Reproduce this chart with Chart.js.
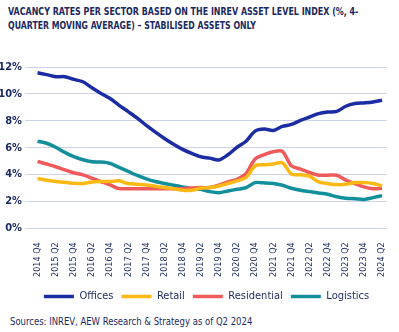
<!DOCTYPE html>
<html>
<head>
<meta charset="utf-8">
<script src="https://cdn.jsdelivr.net/npm/chart.js@4"></script>
<style>
  body { margin: 0; background: #fff; width: 399px; height: 332px; overflow: hidden; position: relative; }
  .txt { position: absolute; color: #1b2a5e; font-family: "DejaVu Sans Condensed", sans-serif; white-space: nowrap; transform-origin: 0 0; }
  .title { left: 8px; font-size: 11px; font-weight: bold; }
  #t1 { top: 5px; }
  #t2 { top: 19px; }
  #source { left: 10px; top: 315px; font-size: 11px; }
  #wrap { position: absolute; left: 0; top: 56px; width: 399px; height: 256px; }
</style>
</head>
<body>
<div id="t1" class="txt title">VACANCY RATES PER SECTOR BASED ON THE INREV ASSET LEVEL INDEX (%, 4-</div>
<div id="t2" class="txt title">QUARTER MOVING AVERAGE) – STABILISED ASSETS ONLY</div>
<div id="wrap"><canvas id="chart"></canvas></div>
<div id="source" class="txt">Sources: INREV, AEW Research &amp; Strategy as of Q2 2024</div>
<script>
const quarters = [
  "2014 Q4", "2015 Q1", "2015 Q2", "2015 Q3", "2015 Q4", "2016 Q1", "2016 Q2", "2016 Q3",
  "2016 Q4", "2017 Q1", "2017 Q2", "2017 Q3", "2017 Q4", "2018 Q1", "2018 Q2", "2018 Q3",
  "2018 Q4", "2019 Q1", "2019 Q2", "2019 Q3", "2019 Q4", "2020 Q1", "2020 Q2", "2020 Q3",
  "2020 Q4", "2021 Q1", "2021 Q2", "2021 Q3", "2021 Q4", "2022 Q1", "2022 Q2", "2022 Q3",
  "2022 Q4", "2023 Q1", "2023 Q2", "2023 Q3", "2023 Q4", "2024 Q1", "2024 Q2"
];
const offices = [11.57, 11.43, 11.28, 11.28, 11.08, 10.9, 10.45, 10.03, 9.65, 9.15, 8.68, 8.2, 7.65, 7.15, 6.68, 6.25, 5.87, 5.57, 5.32, 5.22, 5.08, 5.47, 6.03, 6.48, 7.23, 7.38, 7.28, 7.58, 7.73, 8.03, 8.28, 8.53, 8.65, 8.7, 9.08, 9.28, 9.33, 9.4, 9.53];
const retail = [3.7, 3.58, 3.48, 3.43, 3.35, 3.33, 3.45, 3.48, 3.48, 3.53, 3.33, 3.28, 3.23, 3.13, 3.03, 2.95, 2.83, 2.83, 2.98, 3.03, 3.15, 3.33, 3.53, 3.78, 4.65, 4.73, 4.78, 4.88, 4.03, 3.98, 3.88, 3.45, 3.33, 3.25, 3.28, 3.4, 3.4, 3.33, 3.15];
const residential = [4.98, 4.78, 4.58, 4.35, 4.13, 3.98, 3.73, 3.48, 3.23, 2.95, 2.95, 2.95, 2.95, 2.95, 2.95, 2.95, 2.95, 3.0, 3.03, 3.03, 3.2, 3.45, 3.65, 4.08, 5.15, 5.48, 5.7, 5.73, 4.65, 4.4, 4.15, 3.95, 3.95, 3.95, 3.58, 3.33, 3.08, 2.95, 2.98];
const logistics = [6.48, 6.33, 6.03, 5.65, 5.33, 5.1, 4.95, 4.93, 4.83, 4.53, 4.23, 3.93, 3.68, 3.48, 3.33, 3.2, 3.08, 2.95, 2.9, 2.73, 2.65, 2.78, 2.9, 3.03, 3.4, 3.38, 3.33, 3.2, 2.98, 2.83, 2.73, 2.63, 2.53, 2.35, 2.23, 2.2, 2.15, 2.28, 2.43];
const yTicks = [0, 2, 4, 6, 8, 10, 12];

const navy = "#1b2a5e";
const fontFamily = '"DejaVu Sans Condensed", sans-serif';

// squeeze the html texts to the widths seen in the reference
function fitWidth(id, w) {
  const el = document.getElementById(id);
  el.style.transform = "scaleX(" + (w / el.offsetWidth) + ")";
}
fitWidth("t1", 350);
fitWidth("t2", 248);
fitWidth("source", 242);

function series(label, data, color) {
  return {
    label: label,
    data: data,
    borderColor: color,
    backgroundColor: color,
    borderWidth: 3.5,
    pointRadius: 0,
    tension: 0.3,
    fill: false
  };
}

// the reference legend sits a bit right of the canvas centre
const legendShift = {
  id: "legendShift",
  afterLayout(chart) {
    chart.legend.left += 12;
    chart.legend.right += 12;
  }
};

new Chart(document.getElementById("chart"), {
  type: "line",
  data: {
    labels: quarters,
    datasets: [
      series("Offices", offices, "#1c2ca3"),
      series("Retail", retail, "#fdb913"),
      series("Residential", residential, "#ef5a5a"),
      series("Logistics", logistics, "#11909c")
    ]
  },
  plugins: [legendShift],
  options: {
    responsive: true,
    maintainAspectRatio: false,
    animation: false,
    layout: { padding: { top: 11, right: 10, left: 0, bottom: 0 } },
    plugins: {
      tooltip: { enabled: false },
      legend: {
        position: "bottom",
        labels: {
          color: navy,
          font: { family: fontFamily, size: 11 },
          usePointStyle: true,
          pointStyle: "line",
          pointStyleWidth: 30,
          padding: 8
        }
      }
    },
    scales: {
      x: {
        offset: true,
        grid: { display: false },
        border: { display: false },
        ticks: {
          color: navy,
          font: { family: fontFamily, size: 9 },
          autoSkip: false,
          minRotation: 90,
          maxRotation: 90,
          padding: 6,
          callback: function (v, i) { return i % 2 === 0 ? quarters[i] : ""; }
        }
      },
      y: {
        min: 0,
        max: 12,
        border: { display: false },
        grid: { color: "#cdd1ea", lineWidth: 1 },
        afterFit: function (scale) { scale.width = 33; },
        afterBuildTicks: function (scale) { scale.ticks = yTicks.map(v => ({ value: v })); },
        ticks: {
          color: navy,
          font: { family: fontFamily, size: 11, weight: "bold" },
          callback: function (v) { return v + "%"; }
        }
      }
    }
  }
});
</script>
</body>
</html>
